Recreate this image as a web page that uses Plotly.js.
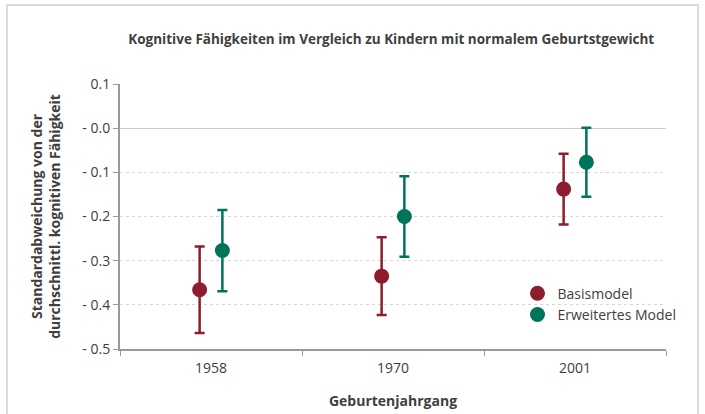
<!DOCTYPE html>
<html>
<head>
<meta charset="utf-8">
<script src="https://cdn.plot.ly/plotly-3.0.1.min.js"></script>
<style>
  body { margin: 0; background: #fff; }
  #wrap { position: relative; width: 705px; height: 414px; }
  #frame { position: absolute; left: 6px; top: 4px; width: 693px; height: 420px; border: 2px solid #dcdcd4; box-sizing: border-box; }
  #myPlot { position: absolute; left: 0; top: 0; width: 705px; height: 414px; }
</style>
</head>
<body>
<div id="wrap">
  <div id="frame"></div>
  <div id="myPlot"></div>
</div>
<script>
// Geburtenjahrgang
let years = ["1958", "1970", "2001"]
// Basismodel
let basis = [-0.366, -0.335, -0.138]
let basisErr = [0.098, 0.088, 0.080]
// Erweitertes Model
let erw = [-0.277, -0.200, -0.077]
let erwErr = [0.092, 0.091, 0.078]

let tickVals = [0.1, 0, -0.1, -0.2, -0.3, -0.4, -0.5]
let tickText = ["0.1", "- 0.0", "- 0.1", "- 0.2", "- 0.3", "- 0.4", "- 0.5"]

let red = "#8c1d2f"
let green = "#00745a"
let font = "'Open Sans', sans-serif"

const data = [
  {
    x: years, y: basis, name: "Basismodel", type: "scatter", mode: "markers",
    marker: {color: red, size: 15},
    error_y: {type: "data", array: basisErr, visible: true, color: red, thickness: 2.5, width: 5}
  },
  {
    x: years, y: erw, name: "Erweitertes Model", type: "scatter", mode: "markers",
    marker: {color: green, size: 15},
    error_y: {type: "data", array: erwErr, visible: true, color: green, thickness: 2.5, width: 5}
  }
]

const layout = {
  width: 705, height: 414,
  margin: {l: 120, r: 39, t: 84, b: 65},
  paper_bgcolor: "rgba(0,0,0,0)",
  plot_bgcolor: "rgba(0,0,0,0)",
  font: {family: font, color: "#404040", size: 14},
  scattermode: "group",
  scattergap: 0.75,
  title: {
    text: "<b>Kognitive Fähigkeiten im Vergleich zu Kindern mit normalem Geburtstgewicht</b>",
    font: {size: 13.5, color: "#404040"},
    x: 0.182, xanchor: "left", y: 0.905, yanchor: "middle"
  },
  xaxis: {
    type: "category",
    title: {text: "<b>Geburtenjahrgang</b>", font: {size: 14}, standoff: 20},
    tickson: "boundaries",
    ticks: "outside", ticklen: 5, tickcolor: "#999",
    ticklabelstandoff: 5,
    showline: true, linecolor: "#999", linewidth: 2,
    showgrid: false
  },
  yaxis: {
    range: [-0.5, 0.1],
    tickvals: tickVals, ticktext: tickText,
    title: {text: "<b>Standardabweichung von der<br>durchschnittl. kognitiven Fähigkeit</b>", font: {size: 14}, standoff: 18},
    ticks: "outside", ticklen: 5, tickcolor: "#999",
    showline: true, linecolor: "#999", linewidth: 2,
    showgrid: true, gridcolor: "#d6d6cc", griddash: "dot", gridwidth: 1,
    zeroline: true, zerolinecolor: "#d0cec4", zerolinewidth: 1
  },
  legend: {
    x: 0.728, y: 0.269, xanchor: "left", yanchor: "top",
    font: {size: 14}, bgcolor: "rgba(0,0,0,0)", tracegroupgap: 0
  }
}

Plotly.newPlot("myPlot", data, layout, {displayModeBar: false})
</script>
</body>
</html>
